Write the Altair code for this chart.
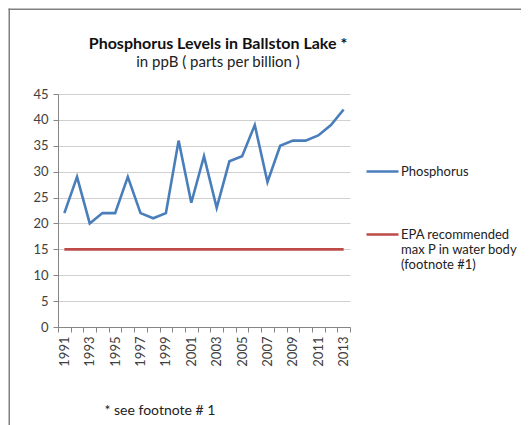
import json
import altair as alt
import pandas as pd

years = list(range(1991, 2014))
phosphorus = [22, 29, 20, 22, 22, 29, 22, 21, 22, 36, 24, 33, 23, 32, 33, 39, 28, 35, 36, 36, 37, 39, 42]
epa_limit = [15] * len(years)

series_names = ["Phosphorus", "EPA recommended max  P in water body (footnote #1)"]
epa_label_lines = ["EPA recommended", "max  P in water body", "(footnote #1)"]
series_colors = ["#4A7EBB", "#BE4B48"]
y_ticks = list(range(0, 50, 5))

df = pd.DataFrame(
    {"year": years * 2,
     "value": phosphorus + epa_limit,
     "series": [series_names[0]] * len(years) + [series_names[1]] * len(years)}
)

FONT = "Lato"
label_expr = (f"datum.label == {json.dumps(series_names[1])} ? "
              f"{json.dumps(epa_label_lines)} : datum.label")

lines = alt.Chart(df).mark_line(strokeWidth=2.6).encode(
    x=alt.X("year:O",
            scale=alt.Scale(type="band", paddingInner=0, paddingOuter=0),
            axis=alt.Axis(title="* see footnote # 1", titleFont=FONT, titleFontSize=14,
                          titleFontWeight="normal", titleColor="#222222",
                          titleAnchor="start", titleAlign="left", titleX=46, titleY=87,
                          titleBaseline="alphabetic",
                          labelAngle=270, labelAlign="right", labelBaseline="middle",
                          labelExpr="datum.value % 2 == 1 ? datum.label : ''",
                          labelFont=FONT, labelFontSize=13, labelColor="#404040",
                          labelPadding=4, tickBand="extent", tickSize=5,
                          tickColor="#868686", domainColor="#868686", grid=False)),
    y=alt.Y("value:Q",
            scale=alt.Scale(domain=[0, 45], nice=False),
            axis=alt.Axis(title=None, values=y_ticks, labelFont=FONT, labelFontSize=13,
                          labelColor="#404040", labelPadding=5, tickSize=5,
                          tickColor="#868686", domainColor="#868686",
                          gridColor="#d0d0d0")),
    color=alt.Color("series:N",
                    scale=alt.Scale(domain=series_names, range=series_colors),
                    sort=series_names,
                    legend=alt.Legend(title=None, orient="none", legendX=307, legendY=60,
                                      symbolType="stroke", symbolSize=1024,
                                      symbolStrokeWidth=2.5, labelOffset=1,
                                      labelFont=FONT, labelFontSize=13, labelColor="#222222",
                                      labelBaseline="middle", labelLimit=300,
                                      labelExpr=label_expr, rowPadding=38)),
)

frame_data = alt.Data(values=[{"k": 1}])
frame_top = alt.Chart(frame_data).mark_rect(color="#808080").encode(
    x=alt.value(-49.5), x2=alt.value(480), y=alt.value(-85.5), y2=alt.value(-84))
frame_left = alt.Chart(frame_data).mark_rect(color="#808080").encode(
    x=alt.value(-49.5), x2=alt.value(-48), y=alt.value(-85.5), y2=alt.value(340))

chart = alt.layer(frame_top, frame_left, lines).properties(
    width=292, height=233,
    padding={"left": 50, "top": 86, "right": 171, "bottom": 100},
    autosize=alt.AutoSizeParams(type="none"),
    title=alt.TitleParams(
        text="Phosphorus  Levels in Ballston Lake *",
        subtitle="in ppB ( parts per billion )",
        font=FONT, fontSize=16, fontWeight="bold", color="#111111",
        subtitleFont=FONT, subtitleFontSize=15, subtitleColor="#222222",
        anchor="middle", frame="group", dx=14, offset=-61, subtitlePadding=3),
).configure_view(stroke=None)

chart.save("out.html", embed_options={"renderer": "svg", "actions": False})
